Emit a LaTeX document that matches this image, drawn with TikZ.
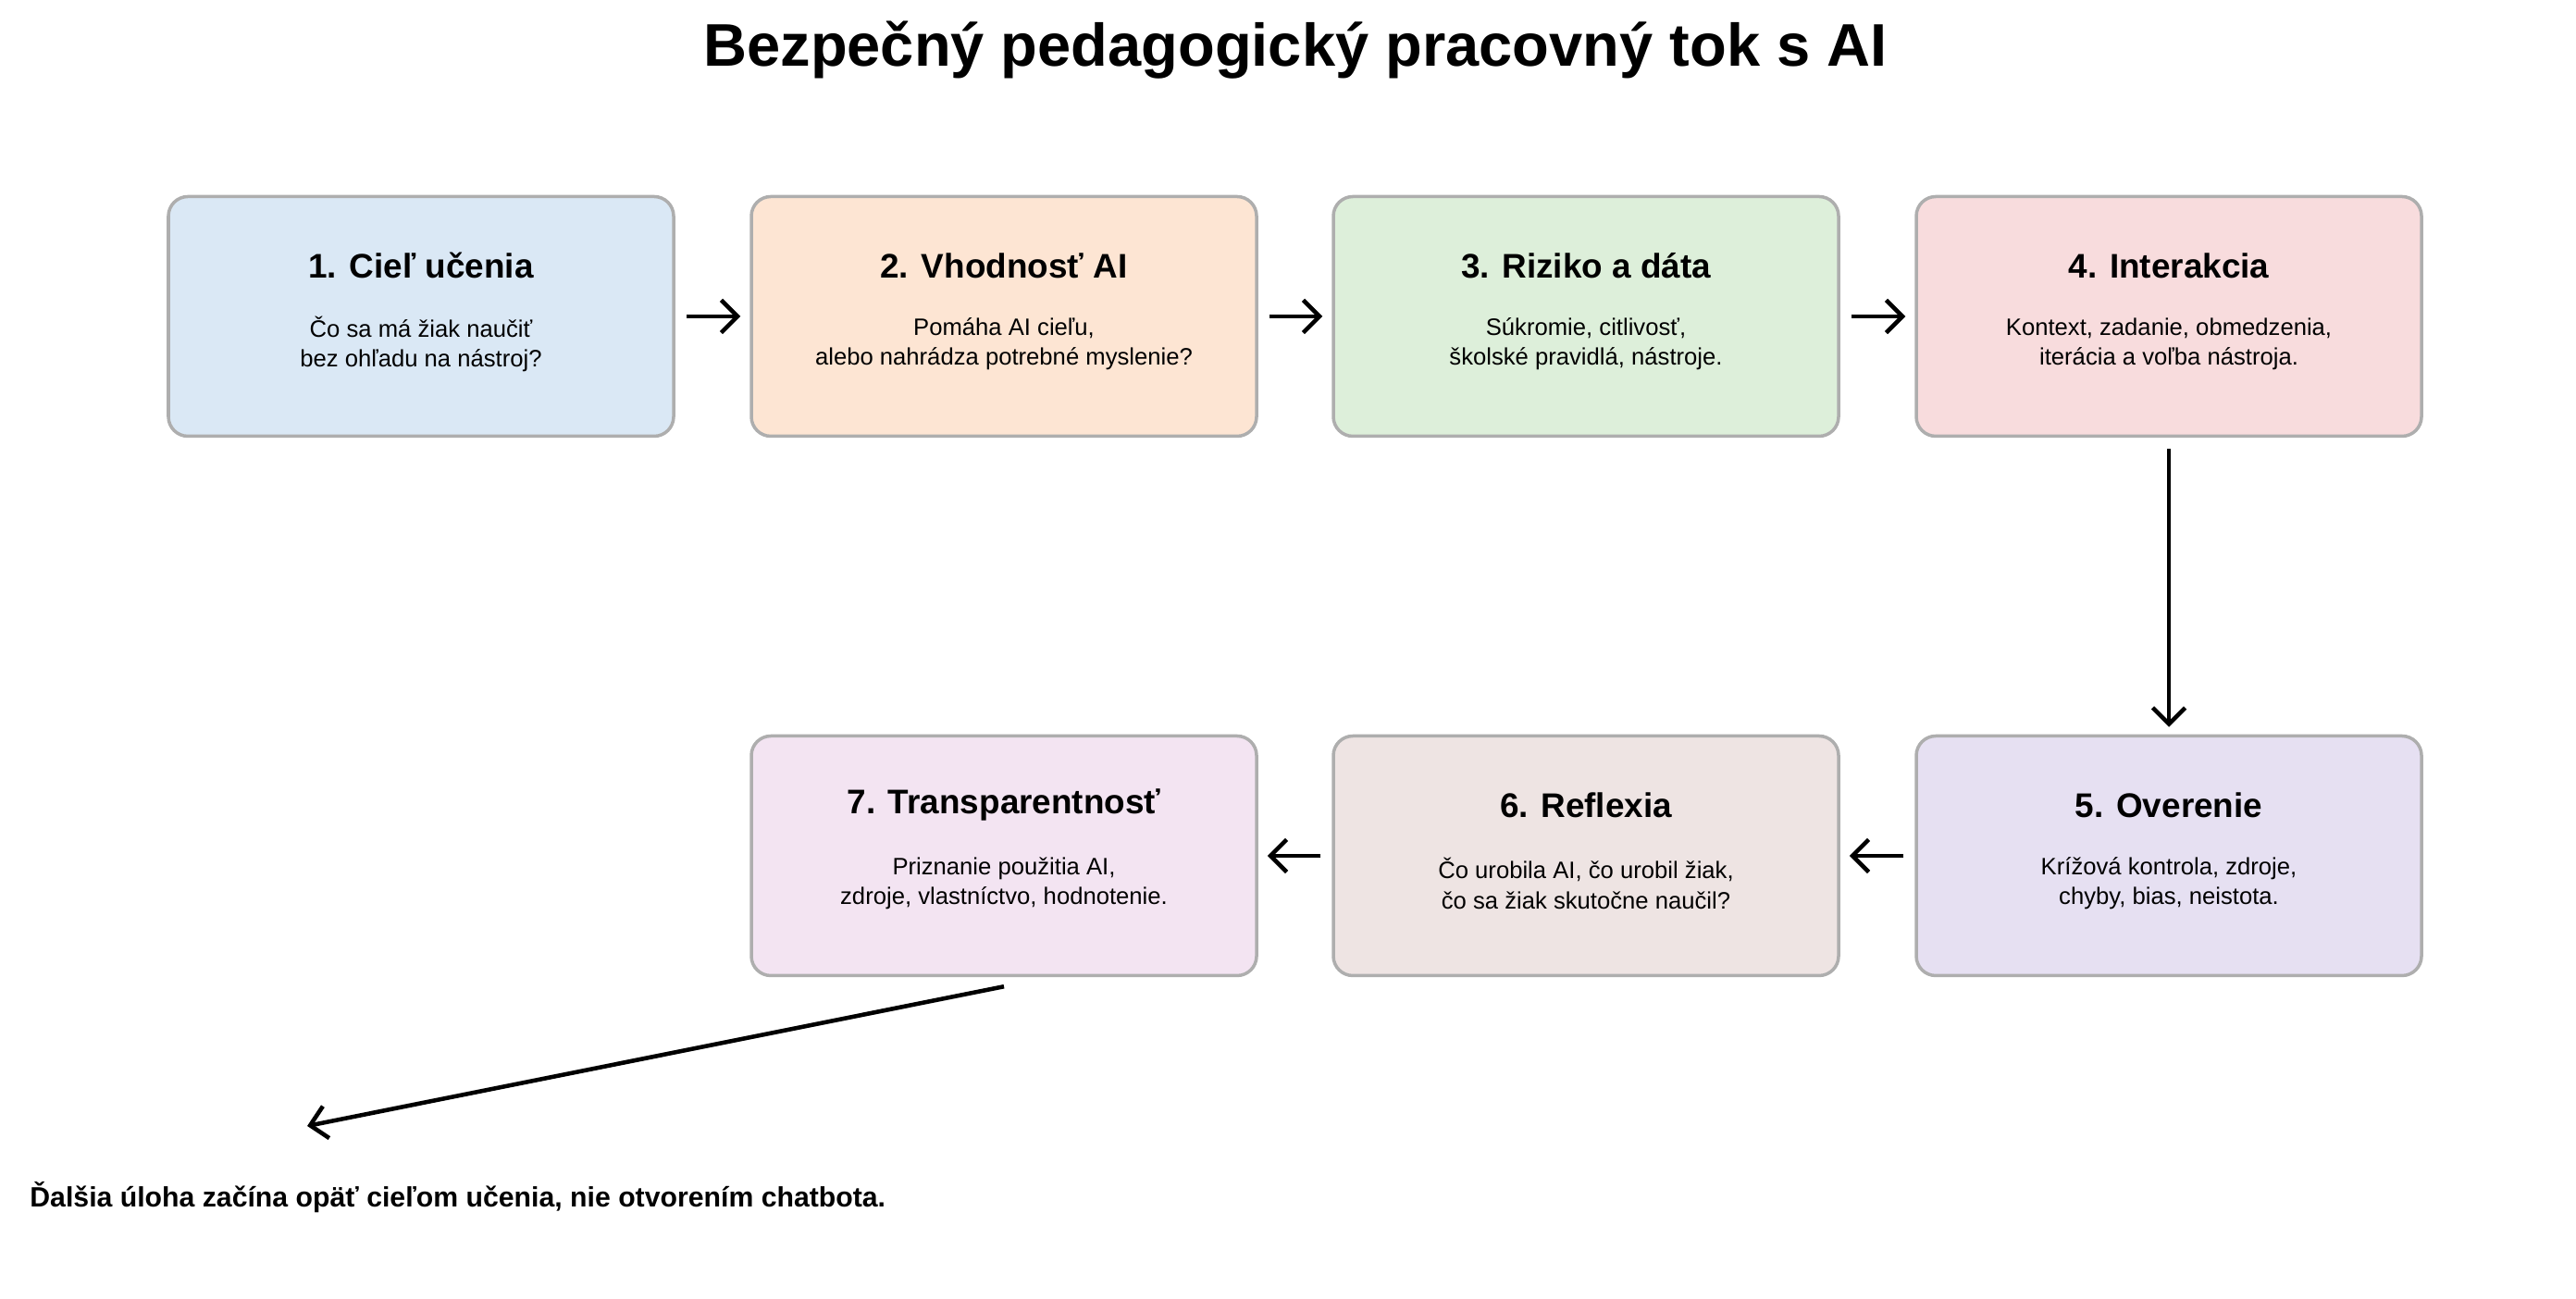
\documentclass[tikz,border=0pt]{standalone}
\usepackage{fontspec}
\setmainfont{Liberation Sans}
\usetikzlibrary{positioning, arrows.meta}
\definecolor{cOne}{HTML}{DAE8F5}
\definecolor{cTwo}{HTML}{FDE5D3}
\definecolor{cThree}{HTML}{DDEFDA}
\definecolor{cFour}{HTML}{F8DCDD}
\definecolor{cFive}{HTML}{E6E0F2}
\definecolor{cSix}{HTML}{EEE4E3}
\definecolor{cSeven}{HTML}{F3E4F2}
\definecolor{edgeGray}{HTML}{AEAEAE}
\tikzset{
	stage/.style={draw=edgeGray, line width=1pt, rounded corners=6pt, minimum width=5.46cm, minimum height=2.59cm},
	flow/.style={-{Straight Barb[length=5pt]}, line width=1.3pt}
}
\newcommand{\stagebox}[5]{%
	\node[stage, fill=#2] (#1) at (#3) {};
	\node[font=\bfseries\fontsize{10.5}{12}\selectfont] at ([yshift=0.55cm]#1.center) {#4};
	\node[font=\fontsize{7.3}{9.2}\selectfont, align=center] at ([yshift=-0.3cm]#1.center) {#5};
}
\begin{document}
\begin{tikzpicture}
		
		%Frame
		\useasboundingbox (0,0) rectangle (27.84,14.04);
		
		%Title
		\node[font=\bfseries\fontsize{18.5}{22}\selectfont] (title) at (14.00,13.50) {Bezpečný pedagogický pracovný tok s AI};
		
		%First row
		\stagebox{goal}{cOne}{4.55,10.62}{1. Cieľ učenia}{Čo sa má žiak naučiť\\bez ohľadu na nástroj?}
		\stagebox{fit}{cTwo}{10.85,10.62}{2. Vhodnosť AI}{Pomáha AI cieľu,\\alebo nahrádza potrebné myslenie?}
		\stagebox{risk}{cThree}{17.14,10.62}{3. Riziko a dáta}{Súkromie, citlivosť,\\školské pravidlá, nástroje.}
		\stagebox{inter}{cFour}{23.44,10.62}{4. Interakcia}{Kontext, zadanie, obmedzenia,\\iterácia a voľba nástroja.}
		
		%Second row
		\stagebox{check}{cFive}{23.44,4.79}{5. Overenie}{Krížová kontrola, zdroje,\\chyby, bias, neistota.}
		\stagebox{refl}{cSix}{17.14,4.79}{6. Reflexia}{Čo urobila AI, čo urobil žiak,\\čo sa žiak skutočne naučil?}
		\stagebox{trans}{cSeven}{10.85,4.79}{7. Transparentnosť}{Priznanie použitia AI,\\zdroje, vlastníctvo, hodnotenie.}
		
		%Arrows
		\draw[flow] ([xshift=0.12cm]goal.east) -- ([xshift=-0.1cm]fit.west);
		\draw[flow] ([xshift=0.12cm]fit.east) -- ([xshift=-0.1cm]risk.west);
		\draw[flow] ([xshift=0.12cm]risk.east) -- ([xshift=-0.1cm]inter.west);
		\draw[flow] ([yshift=-0.12cm]inter.south) -- ([yshift=0.08cm]check.north);
		\draw[flow] ([xshift=-0.12cm]check.west) -- ([xshift=0.1cm]refl.east);
		\draw[flow] ([xshift=-0.12cm]refl.west) -- ([xshift=0.1cm]trans.east);
		
		%Closing note
		\coordinate (loopEnd) at (3.32,1.87);
		\draw[flow] ([yshift=-0.1cm]trans.south) -- (loopEnd);
		\node[font=\bfseries\fontsize{8.6}{10}\selectfont, anchor=west] (note) at (0.20,1.10) {Ďalšia úloha začína opäť cieľom učenia, nie otvorením chatbota.};
		
\end{tikzpicture}
\end{document}
